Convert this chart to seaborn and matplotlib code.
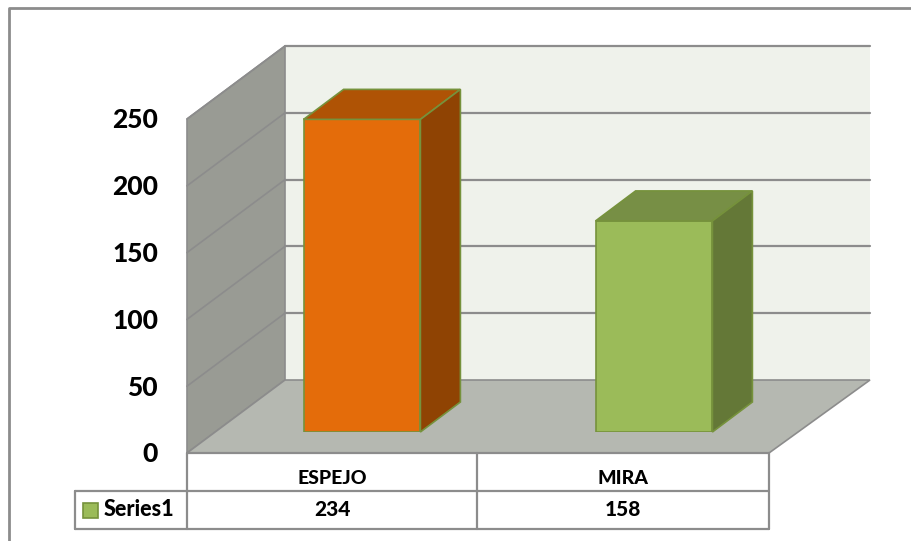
import matplotlib
matplotlib.use("Agg")
import matplotlib.pyplot as plt
from matplotlib.patches import Polygon, Rectangle
import pandas as pd
import seaborn as sns

categories = ["ESPEJO", "MIRA"]
values = [234, 158]
y_ticks = [0, 50, 100, 150, 200, 250]
series_name = "Series1"

W, H = 912, 541
front = ["#E46C0A", "#9BBB59"]
top = ["#AF5305", "#778F45"]
side = ["#8F4303", "#647837"]
edge = "#76923C"
line = "#8C8C8C"
ink = "#000000"

sns.set_theme(style="white")
plt.rcParams["font.family"] = ["Lato", "DejaVu Sans"]

fig = plt.figure(figsize=(W / 100, H / 100), dpi=100, facecolor="white")

# pixel canvas for the box walls and the table
bg = fig.add_axes([0, 0, 1, 1])
bg.set_xlim(0, W)
bg.set_ylim(H, 0)
bg.axis("off")

# front corner of wall, and how far the box goes back
x0, x1 = 187, 769
back_l, back_r = 285, 870
wall_dy = -73
y_zero = 453
px_per_unit = 334 / 250


def ypos(v):
    return y_zero - v * px_per_unit


# chart frame, only top and left are inside the picture
bg.plot([9, 9, W], [H, 8, 8], color=line, lw=2, zorder=0)

# back wall
bg.add_patch(Polygon([(back_l, ypos(0) + wall_dy), (back_r, ypos(0) + wall_dy),
                      (back_r, ypos(250) + wall_dy), (back_l, ypos(250) + wall_dy)],
                     fc="#EFF2EB", ec="none", zorder=1))
# side wall
bg.add_patch(Polygon([(x0, ypos(0)), (back_l, ypos(0) + wall_dy),
                      (back_l, ypos(250) + wall_dy), (x0, ypos(250))],
                     fc="#999B94", ec=line, lw=1.2, zorder=1))
# floor
bg.add_patch(Polygon([(x0, ypos(0)), (back_l, ypos(0) + wall_dy),
                      (back_r, ypos(0) + wall_dy), (x1, ypos(0))],
                     fc="#B5B8B1", ec=line, lw=1.2, zorder=2))
for t in y_ticks:
    y = ypos(t)
    if t > 0:
        bg.plot([x0, back_l], [y, y + wall_dy], color=line, lw=1.2, zorder=2)
        bg.plot([back_l, back_r], [y + wall_dy, y + wall_dy], color=line, lw=1.6, zorder=2)
    bg.text(158, y + 1.5, str(t), ha="right", va="center", fontsize=19, fontweight="black",
            color=ink, zorder=5)

# data table under the chart
for x in [x0, 477, x1]:
    bg.plot([x, x], [y_zero, 529], color=line, lw=1.6, zorder=4)
bg.plot([x0, x1], [y_zero, y_zero], color=line, lw=1.6, zorder=4)
bg.plot([75, x1], [491, 491], color=line, lw=1.6, zorder=4)
bg.plot([75, x1], [529, 529], color=line, lw=1.6, zorder=4)
bg.plot([75, 75], [491, 529], color=line, lw=1.6, zorder=4)
bg.add_patch(Rectangle((83, 503), 15, 15, fc=front[1], ec=edge, lw=1.2, zorder=4))
bg.text(104, 510, series_name, ha="left", va="center", fontsize=15.5, fontweight="black",
        color=ink, zorder=5)
for cx, c, v in zip([332, 623], categories, values):
    bg.text(cx, 478, c, ha="center", va="center", fontsize=14, fontweight="black", color=ink, zorder=5)
    bg.text(cx, 510, str(v), ha="center", va="center", fontsize=15, fontweight="black", color=ink, zorder=5)

# bar axes sits in the plane of the bar fronts
ax_left, ax_right = 216, 800
ax_bottom = 432
ax_top = ax_bottom - 250 * px_per_unit
ax = fig.add_axes([ax_left / W, 1 - ax_bottom / H, (ax_right - ax_left) / W, (ax_bottom - ax_top) / H])
ax.patch.set_alpha(0)
df = pd.DataFrame({"place": categories, "count": values})
sns.barplot(data=df, x="place", y="count", hue="place", palette=front, width=0.4, saturation=1,
            edgecolor=edge, linewidth=1.2, legend=False, ax=ax, zorder=3)
ax.set_xlim(-0.5, 1.5)
ax.set_ylim(0, 250)
ax.axis("off")

# 3D faces worked out from the bars the library drew
depth_x, depth_y = 40, 30
to_data = ax.transData.inverted()
for i, bar in enumerate(list(ax.patches)):
    l, r = bar.get_x(), bar.get_x() + bar.get_width()
    h = bar.get_height()
    (lp, bp), (rp, tp) = ax.transData.transform([(l, 0), (r, h)])
    (lb, bb), (rb, tb) = to_data.transform([(lp + depth_x, bp + depth_y), (rp + depth_x, tp + depth_y)])
    ax.add_patch(Polygon([(l, h), (r, h), (rb, tb), (lb, tb)], fc=top[i], ec=edge, lw=1.2,
                         clip_on=False, zorder=3))
    ax.add_patch(Polygon([(r, 0), (rb, bb), (rb, tb), (r, h)], fc=side[i], ec=edge, lw=1.2,
                         clip_on=False, zorder=3))

fig.savefig("out.png", dpi=100)
